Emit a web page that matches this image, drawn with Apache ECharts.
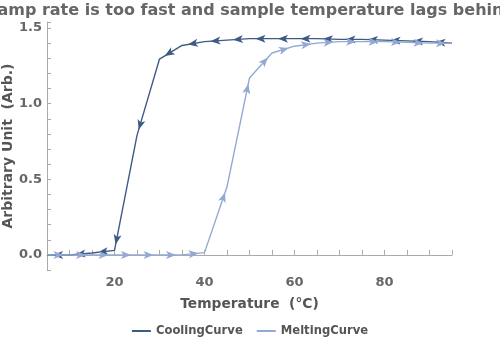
<!DOCTYPE html>
<html>
<head>
<meta charset="utf-8">
<script src="https://cdn.jsdelivr.net/npm/echarts@6/dist/echarts.min.js"></script>
<style>html,body{margin:0;padding:0;background:#fff}#c{width:500px;height:349px}</style>
</head>
<body>
<div id="c"></div>
<script>
// Cooling curve in order of travel (hot -> cold)
const coolingT = [95, 90, 85, 80, 75, 70, 65, 60, 55, 50, 45, 40, 35, 30, 25, 20, 15, 10, 5];
const coolingY = [1.40, 1.41, 1.415, 1.42, 1.425, 1.425, 1.43, 1.43, 1.43, 1.43, 1.42, 1.41, 1.385, 1.295, 0.79, 0.03, 0.012, 0.0, 0.0];
// Melting curve in order of travel (cold -> hot)
const meltingT = [5, 10, 15, 20, 25, 30, 35, 40, 45, 50, 55, 60, 65, 70, 75, 80, 85, 90, 95];
const meltingY = [0.0, 0.0, 0.0, 0.0, 0.0, 0.0, 0.0, 0.015, 0.45, 1.17, 1.335, 1.38, 1.40, 1.41, 1.41, 1.41, 1.405, 1.40, 1.40];
const xTickLabels = [20, 40, 60, 80];
const yTickLabels = [0.0, 0.5, 1.0, 1.5];
const seriesNames = ['CoolingCurve', 'MeltingCurve'];
const titleText = 'Ramp rate is too fast and sample temperature lags behind';
const xName = 'Temperature  (°C)';
const yName = 'Arbitrary Unit  (Arb.)';

const colors = ['#3e5b85', '#92a9d3'];
const FONT = 'DejaVu Sans';
const ARROW_W = 6, ARROW_H = 10;

const chart = echarts.init(document.getElementById('c'), null, {renderer: 'canvas'});

function plain(xs, ys) { return xs.map((x, i) => [x, ys[i]]); }

const option = {
  animation: false,
  color: colors,
  title: {
    text: titleText, left: 'center', top: -2,
    textStyle: {fontFamily: FONT, fontWeight: 'bold', fontSize: 16, color: '#666'}
  },
  legend: {
    data: seriesNames, bottom: 7, left: 'center',
    icon: 'rect', itemWidth: 19, itemHeight: 2, itemGap: 14,
    textStyle: {fontFamily: FONT, fontWeight: 'bold', fontSize: 11.6, color: '#555'}
  },
  grid: {left: 47, right: 48, top: 22, bottom: 79, containLabel: false, outerBoundsMode: 'none'},
  xAxis: {
    type: 'value', min: 5, max: 95, interval: 5,
    name: xName, nameLocation: 'middle', nameGap: 27, nameMoveOverlap: false,
    nameTextStyle: {fontFamily: FONT, fontWeight: 'bold', fontSize: 13.8, color: '#555'},
    axisLine: {show: true, lineStyle: {color: '#aaa', width: 1}},
    axisTick: {show: true, inside: true, length: 5, lineStyle: {color: '#aaa'}},
    splitLine: {show: false},
    axisLabel: {
      margin: 6, fontFamily: FONT, fontWeight: 'bold', fontSize: 13, color: '#666',
      formatter: v => xTickLabels.indexOf(Math.round(v)) >= 0 && Math.abs(v - Math.round(v)) < 1e-6 ? String(Math.round(v)) : '',
      showMinLabel: true, showMaxLabel: true
    }
  },
  yAxis: {
    type: 'value', min: -0.1, max: 1.54, interval: 0.1,
    name: yName, nameLocation: 'middle', nameGap: 32, nameRotate: 90, nameMoveOverlap: false,
    nameTextStyle: {fontFamily: FONT, fontWeight: 'bold', fontSize: 14, color: '#555'},
    axisLine: {show: true, lineStyle: {color: '#aaa', width: 1}},
    axisTick: {show: true, inside: true, length: 4, lineStyle: {color: '#aaa'}},
    splitLine: {show: false},
    axisLabel: {
      margin: 5, fontFamily: FONT, fontWeight: 'bold', fontSize: 13, color: '#666',
      formatter: v => {
        for (const t of yTickLabels) { if (Math.abs(v - t) < 1e-6) return t.toFixed(1); }
        return '';
      }
    }
  },
  series: [
    {name: seriesNames[0], type: 'line', data: plain(coolingT, coolingY), symbol: 'none',
     lineStyle: {width: 1.4, color: colors[0]}, itemStyle: {color: colors[0]}, z: 2},
    {name: seriesNames[1], type: 'line', data: plain(meltingT, meltingY), symbol: 'none',
     lineStyle: {width: 1.4, color: colors[1]}, itemStyle: {color: colors[1]}, z: 3}
  ]
};
chart.setOption(option);

function arrowData(xs, ys) {
  const px = xs.map((x, i) => chart.convertToPixel({gridIndex: 0}, [x, ys[i]]));
  return xs.map((x, i) => {
    if (i === 0) return {value: [x, ys[i]], symbol: 'none'};
    const dx = px[i][0] - px[i - 1][0];
    const dy = px[i][1] - px[i - 1][1];
    const len = Math.hypot(dx, dy) || 1;
    const ux = dx / len, uy = dy / len;
    const phi = Math.atan2(-dy, dx) * 180 / Math.PI;
    const back = ARROW_H / 2 + 1;
    return {
      value: [x, ys[i]], symbol: 'arrow', symbolSize: [ARROW_W, ARROW_H],
      symbolRotate: phi - 90, symbolOffset: [-ux * back, -uy * back]
    };
  });
}

chart.setOption({
  series: [
    {name: seriesNames[0], data: arrowData(coolingT, coolingY), showSymbol: true, symbol: 'arrow'},
    {name: seriesNames[1], data: arrowData(meltingT, meltingY), showSymbol: true, symbol: 'arrow'}
  ]
});
</script>
</body>
</html>
